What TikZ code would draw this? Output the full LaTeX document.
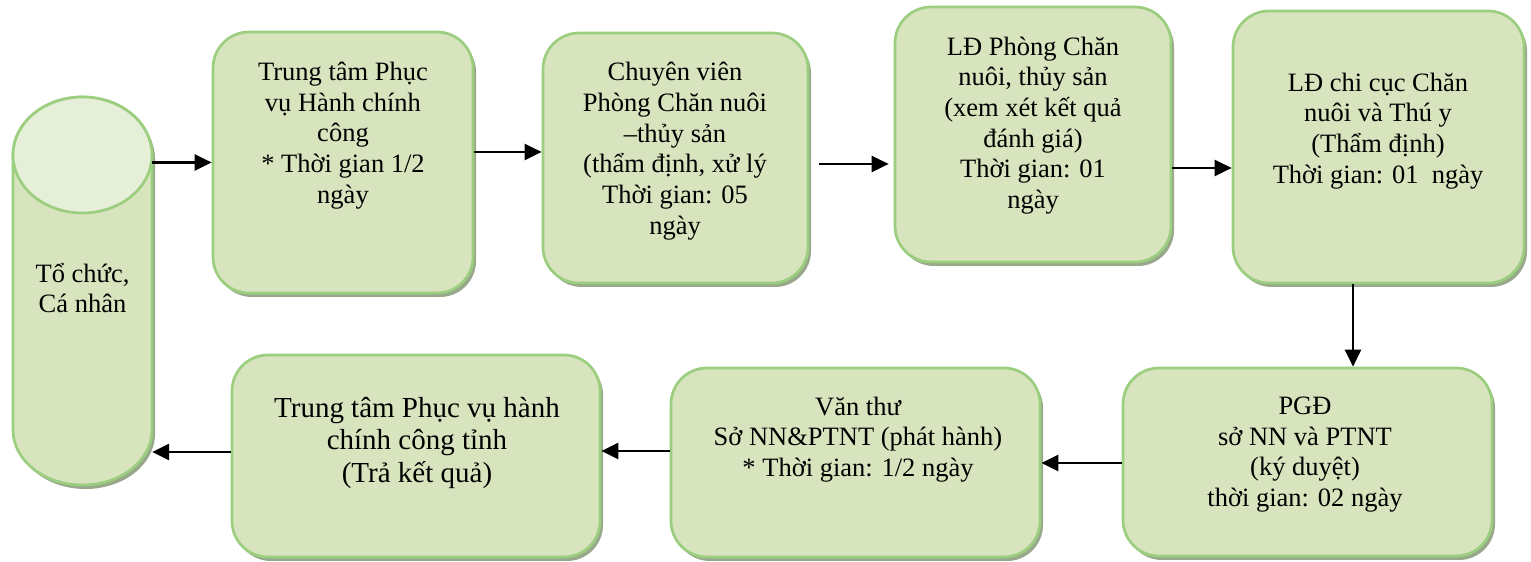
\documentclass[tikz,border=0pt]{standalone}
\usepackage{fontspec}
\setmainfont{Liberation Serif}
\usetikzlibrary{arrows.meta,shadows,calc}
\definecolor{fillc}{HTML}{D7E4BD}
\definecolor{topc}{HTML}{E6EFD7}
\definecolor{bordc}{HTML}{9CCE80}
\definecolor{shadowc}{HTML}{98A88A}
\begin{document}
\begin{tikzpicture}[x=1pt,y=1pt,
  myshadow/.style={drop shadow={shadow xshift=3pt,shadow yshift=-4pt,fill=shadowc,opacity=1}},
  boxx/.style={rectangle,rounded corners=36pt,draw=bordc,fill=fillc,line width=2.7pt,inner sep=0pt,myshadow},
  txt/.style={align=center,inner sep=0pt,font=\fontsize{26.5}{30.7}\selectfont},
  arr/.style={line width=2.7pt,-{Triangle[length=17pt,width=16pt]}}]
\useasboundingbox (0,0) rectangle (1531,562);

% cylinder
\node[inner sep=0pt,minimum width=139pt,minimum height=388pt] (cylbox) at (82.5,271) {};
\path[draw=bordc,fill=fillc,line width=2.7pt,myshadow]
  (13,407) -- (13,132) arc[start angle=180,end angle=360,x radius=69.5,y radius=55]
  -- (152,407) arc[start angle=0,end angle=180,x radius=69.5,y radius=58] -- cycle;
\path[draw=bordc,fill=topc,line width=2.7pt] (82.5,407) ellipse [x radius=69.5,y radius=58];
\node[txt] (tcyl) at (82.5,274) {Tổ chức,\\Cá nhân};

% boxes
\node[boxx,minimum width=260pt,minimum height=261pt] (b1) at (343,399.5) {};
\node[txt] (t1) at (343,426.5) {Trung tâm Phục\\vụ Hành chính\\công\\* Thời gian 1/2\\ngày};

\node[boxx,minimum width=265pt,minimum height=250pt] (b2) at (675.5,404) {};
\node[txt] (t2) at (675,411) {Chuyên viên\\Phòng Chăn nuôi\\–thủy sản\\(thẩm định, xử lý\\Thời gian: 05\\ngày};

\node[boxx,minimum width=276pt,minimum height=255pt] (b3) at (1033,427.5) {};
\node[txt] (t3) at (1033,436.5) {LĐ Phòng Chăn\\nuôi, thủy sản\\(xem xét kết quả\\đánh giá)\\Thời gian: 01\\ngày};

\node[boxx,minimum width=291pt,minimum height=272pt] (b4) at (1378.5,415) {};
\node[txt] (t4) at (1378,431) {LĐ chi cục Chăn\\nuôi và Thú y\\(Thẩm định)\\Thời gian: 01\ \ ngày};

\node[boxx,minimum width=369pt,minimum height=188pt] (b5) at (1307.5,100) {};
\node[txt] (t5) at (1305,107.5) {PGĐ\\sở NN và PTNT\\(ký duyệt)\\thời gian: 02 ngày};

\node[boxx,minimum width=369pt,minimum height=189pt] (b6) at (855.5,99.5) {};
\node[txt] (t6) at (858,122.5) {Văn thư\\Sở NN\&PTNT (phát hành)\\* Thời gian: 1/2 ngày};

\node[boxx,minimum width=368pt,minimum height=202pt] (b7) at (416,106) {};
\node[txt,font=\fontsize{29}{32.5}\selectfont] (t7) at (417,119.5) {Trung tâm Phục vụ hành\\chính công tỉnh\\(Trả kết quả)};

% connectors
\draw[arr] (cylbox.east |- b1.west) -- (b1.west);
\draw[arr] ([yshift=10.5pt]b1.east) -- ([yshift=6pt]b2.west);
\draw[arr] ([shift={(10pt,-6pt)}]b2.east) -- ([shift={(-5pt,-29.5pt)}]b3.west);
\draw[arr] ([yshift=-33.5pt]b3.east) -- ([yshift=-21pt]b4.west);
\draw[arr] ([xshift=-25.5pt]b4.south) -- ([xshift=45.5pt]b5.north);
\draw[arr] ([yshift=-1pt]b5.west) -- ([yshift=-0.5pt]b6.east);
\draw[arr] ([yshift=11.5pt]b6.west) -- ([yshift=5pt]b7.east);
\draw[arr] ([yshift=4pt]b7.west) -- ([yshift=-161pt]cylbox.east);
\end{tikzpicture}
\end{document}
